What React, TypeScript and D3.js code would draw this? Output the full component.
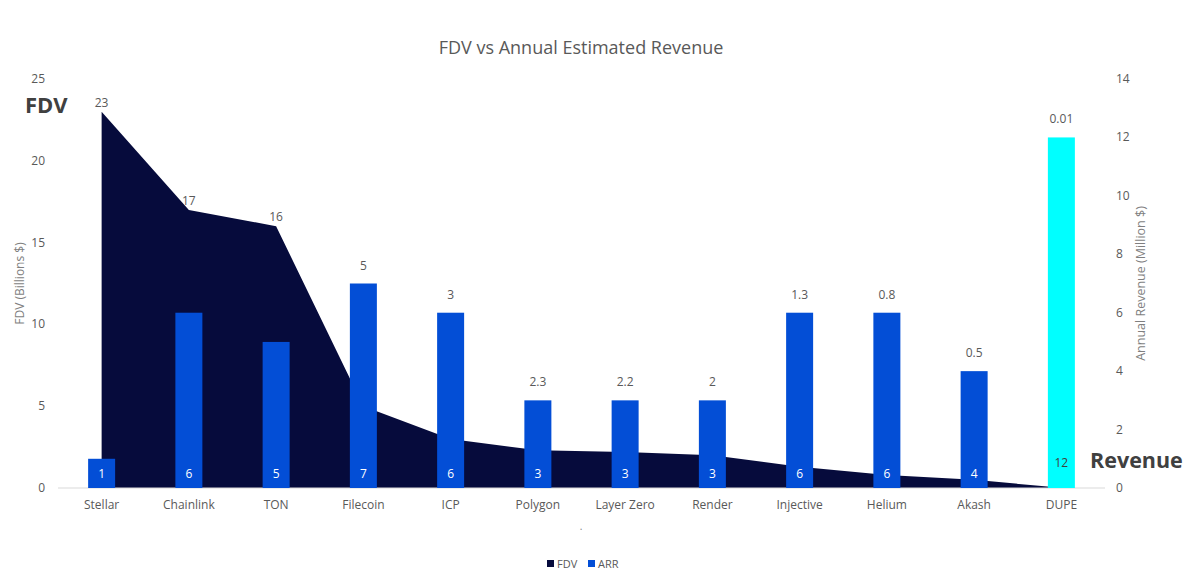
import React, { useEffect, useRef } from 'react';
import * as d3 from 'd3';

const categories = ['Stellar', 'Chainlink', 'TON', 'Filecoin', 'ICP', 'Polygon', 'Layer Zero', 'Render', 'Injective', 'Helium', 'Akash', 'DUPE'];
const fdv = [23, 17, 16, 5, 3, 2.3, 2.2, 2, 1.3, 0.8, 0.5, 0.01];
const arr = [1, 6, 5, 7, 6, 3, 3, 3, 6, 6, 4, 12];
const fdvTicks = [0, 5, 10, 15, 20, 25];
const arrTicks = [0, 2, 4, 6, 8, 10, 12, 14];

const FONT = '"Open Sans", "Noto Sans", sans-serif';

const App: React.FC = () => {
  const svgRef = useRef<SVGSVGElement | null>(null);

  useEffect(() => {
    const svg = d3.select(svgRef.current);
    svg.selectAll('*').remove();

    const width = 1200;
    const height = 577;
    const left = 58;
    const right = 1105;
    const top = 79;
    const bottom = 488;

    svg.attr('width', width).attr('height', height).style('font-family', FONT);

    const x = d3.scaleBand().domain(categories).range([left, right]);
    const yLeft = d3.scaleLinear().domain([0, 25]).range([bottom, top]);
    const yRight = d3.scaleLinear().domain([0, 14]).range([bottom, top]);
    const cx = (c: string) => (x(c) as number) + x.bandwidth() / 2;
    const barW = 27;

    // title
    svg.append('text')
      .attr('x', 581).attr('y', 54)
      .attr('text-anchor', 'middle')
      .attr('font-size', 18)
      .attr('fill', '#595959')
      .text('FDV vs Annual Estimated Revenue');

    // FDV area
    const area = d3.area<number>()
      .x((_, i) => cx(categories[i]))
      .y0(bottom)
      .y1((d) => yLeft(d));
    svg.append('path')
      .attr('d', area(fdv) as string)
      .attr('fill', '#060b3c');

    // baseline
    svg.append('line')
      .attr('x1', left).attr('x2', right)
      .attr('y1', bottom).attr('y2', bottom)
      .attr('stroke', '#d9d9d9');

    // ARR bars
    svg.selectAll('rect.bar')
      .data(arr)
      .enter()
      .append('rect')
      .attr('x', (_, i) => cx(categories[i]) - barW / 2)
      .attr('y', (d) => yRight(d))
      .attr('width', barW)
      .attr('height', (d) => bottom - yRight(d))
      .attr('fill', (_, i) => (categories[i] === 'DUPE' ? '#00ffff' : '#034ed6'));

    // ARR labels inside base
    svg.selectAll('text.arr')
      .data(arr)
      .enter()
      .append('text')
      .attr('x', (_, i) => cx(categories[i]))
      .attr('y', (_, i) => (categories[i] === 'DUPE' ? 467 : 478))
      .attr('text-anchor', 'middle')
      .attr('font-size', 12)
      .attr('fill', (_, i) => (categories[i] === 'DUPE' ? '#404040' : '#ffffff'))
      .text((d) => d);

    // FDV labels above the higher of point and bar
    svg.selectAll('text.fdv')
      .data(fdv)
      .enter()
      .append('text')
      .attr('x', (_, i) => cx(categories[i]))
      .attr('y', (d, i) => {
        const a = yLeft(d);
        const b = yRight(arr[i]);
        return a < b ? a - 5 : b - 14;
      })
      .attr('text-anchor', 'middle')
      .attr('font-size', 12)
      .attr('fill', '#595959')
      .text((d) => d);

    // left axis ticks
    svg.selectAll('text.lt')
      .data(fdvTicks)
      .enter()
      .append('text')
      .attr('x', 45)
      .attr('y', (d) => yLeft(d) + 4)
      .attr('text-anchor', 'end')
      .attr('font-size', 12)
      .attr('fill', '#595959')
      .text((d) => d);

    // right axis ticks
    svg.selectAll('text.rt')
      .data(arrTicks)
      .enter()
      .append('text')
      .attr('x', 1116)
      .attr('y', (d) => yRight(d) + 4)
      .attr('text-anchor', 'start')
      .attr('font-size', 12)
      .attr('fill', '#595959')
      .text((d) => d);

    // category labels
    svg.selectAll('text.cat')
      .data(categories)
      .enter()
      .append('text')
      .attr('x', (d) => cx(d))
      .attr('y', 509)
      .attr('text-anchor', 'middle')
      .attr('font-size', 12)
      .attr('fill', '#595959')
      .text((d) => d);

    // axis titles
    svg.append('text')
      .attr('transform', `translate(24, ${(top + bottom) / 2}) rotate(-90)`)
      .attr('text-anchor', 'middle')
      .attr('font-size', 12)
      .attr('fill', '#7f7f7f')
      .text('FDV (Billions $)');
    svg.append('text')
      .attr('transform', `translate(1145, ${(top + bottom) / 2}) rotate(-90)`)
      .attr('text-anchor', 'middle')
      .attr('font-size', 12.5)
      .attr('fill', '#7f7f7f')
      .text('Annual Revenue (Million $)');

    // big annotations
    svg.append('text')
      .attr('x', 25).attr('y', 113)
      .attr('font-size', 22).attr('font-weight', 'bold')
      .attr('fill', '#404040')
      .text('FDV');
    svg.append('text')
      .attr('x', 1090).attr('y', 468)
      .attr('font-size', 21.5).attr('font-weight', 'bold')
      .attr('fill', '#404040')
      .text('Revenue');

    // stray dot below axis
    svg.append('text')
      .attr('x', 581).attr('y', 530)
      .attr('text-anchor', 'middle')
      .attr('font-size', 10)
      .attr('fill', '#7f7f7f')
      .text('.');

    // legend
    const legend = [
      { name: 'FDV', color: '#060b3c', x: 547 },
      { name: 'ARR', color: '#034ed6', x: 588 },
    ];
    legend.forEach((l) => {
      svg.append('rect')
        .attr('x', l.x).attr('y', 560)
        .attr('width', 7).attr('height', 7)
        .attr('fill', l.color);
      svg.append('text')
        .attr('x', l.x + 10).attr('y', 568)
        .attr('font-size', 11)
        .attr('fill', '#595959')
        .text(l.name);
    });
  }, []);

  return <svg ref={svgRef} style={{ display: 'block', position: 'absolute', left: 0, top: 0 }}></svg>;
};

export default App;
